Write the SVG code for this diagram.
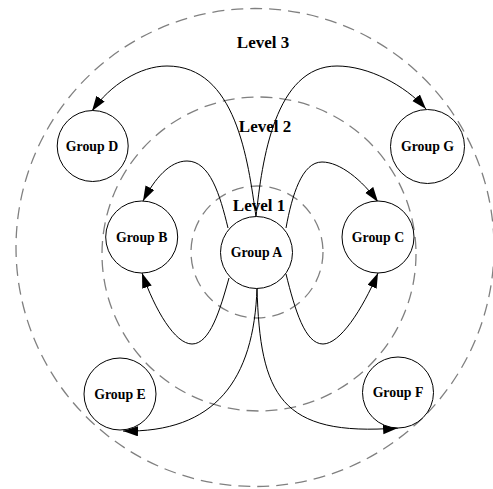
<svg xmlns="http://www.w3.org/2000/svg" width="493" height="489" viewBox="0 0 493 489">
<style>
.lvl{fill:none;stroke:#808080;stroke-width:1.3;stroke-dasharray:12,7}
.lvlt{font-family:"Liberation Serif",serif;font-weight:bold;font-size:17px;text-anchor:middle;fill:#000}
.node circle{fill:#fff;stroke:#000;stroke-width:1}
.node text{font-family:"Liberation Serif",serif;font-weight:bold;font-size:13.8px;text-anchor:middle;fill:#000}
.edge{fill:none;stroke:#000;stroke-width:1;marker-end:url(#arr)}
</style>
<defs>
<marker id="arr" markerUnits="userSpaceOnUse" markerWidth="16" markerHeight="11" refX="15" refY="5" orient="auto">
<path d="M0,0 L15,5 L0,10 z" fill="#000"/>
</marker>
</defs>
<rect width="493" height="489" fill="#fff"/>
<g id="levels">
<circle class="lvl" cx="255" cy="247.5" r="239"/>
<circle class="lvl" cx="259" cy="254" r="157"/>
<circle class="lvl" cx="257" cy="252" r="66"/>
<text class="lvlt" x="263" y="48">Level 3</text>
<text class="lvlt" x="265" y="132">Level 2</text>
<text class="lvlt" x="259" y="211">Level 1</text>
</g>
<g id="connectors">
<path class="edge" d="M256,217 C248,160 236,66 167,66 C140,66 110,85 92,111"/>
<path class="edge" d="M256,217 C262,160 275,66 337,66 C368,66 405,85 426,109"/>
<path class="edge" d="M228,228 C220,195 210,161 187,161 C170,161 155,178 143,201"/>
<path class="edge" d="M286,228 C292,195 302,162 322,162 C340,162 362,180 378,202"/>
<path class="edge" d="M229,278 C220,310 210,344 192,344 C175,344 155,310 142,273"/>
<path class="edge" d="M286,274 C295,310 305,344 323,344 C340,344 362,310 378,273"/>
<path class="edge" d="M257,288 C254,380 215,433 123,431"/>
<path class="edge" d="M257,288 C260,395 280,437 398,428"/>
</g>
<g id="groupA" class="node"><circle cx="256.5" cy="252.5" r="36"/><text x="256.5" y="257">Group A</text></g>
<g id="groupB" class="node"><circle cx="141.7" cy="237" r="36"/><text x="141.7" y="241.5">Group B</text></g>
<g id="groupC" class="node"><circle cx="378" cy="237" r="36"/><text x="378" y="241.5">Group C</text></g>
<g id="groupD" class="node"><circle cx="92.7" cy="146" r="35.5"/><text x="92" y="150.5">Group D</text></g>
<g id="groupG" class="node"><circle cx="427.5" cy="146.5" r="37"/><text x="427.5" y="151">Group G</text></g>
<g id="groupE" class="node"><circle cx="120" cy="394" r="36"/><text x="120" y="398.5">Group E</text></g>
<g id="groupF" class="node"><circle cx="398" cy="392.5" r="35.5"/><text x="398" y="397">Group F</text></g>
</svg>
